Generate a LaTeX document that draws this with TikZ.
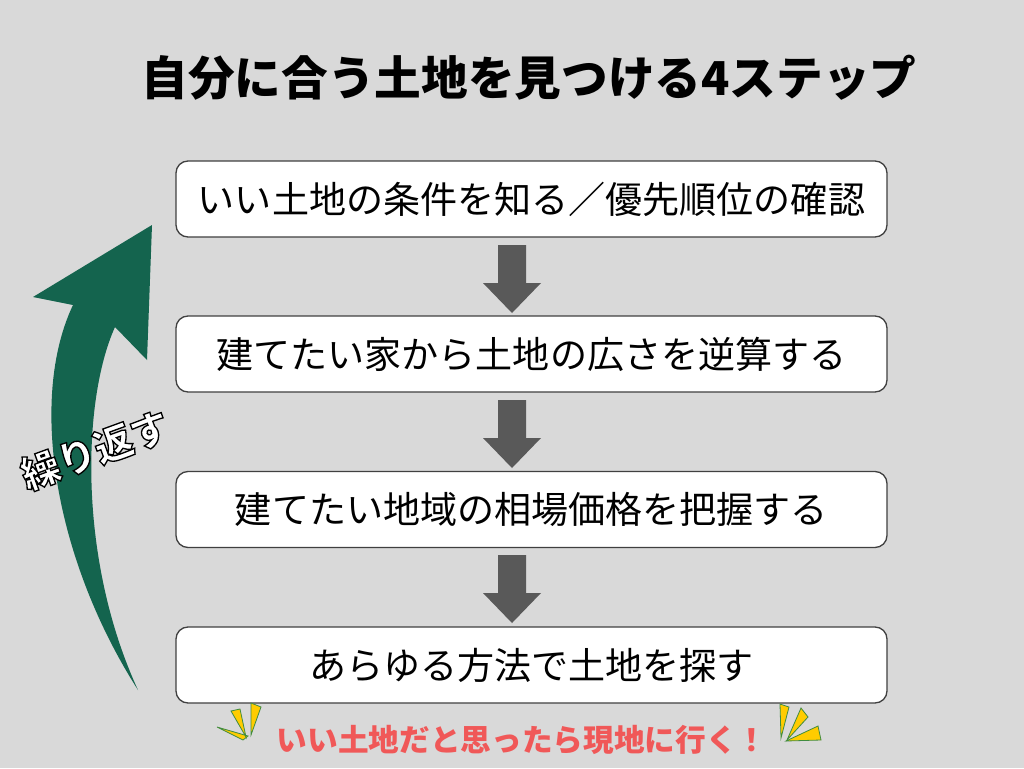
\documentclass[tikz,border=0pt]{standalone}
\usepackage{fontspec}
\newfontfamily\jp{Noto Sans CJK JP}
\newcommand\jpb{\jp\bfseries}
\begin{document}
\begin{tikzpicture}[x=0.75pt,y=-0.75pt,
 stepbox/.style={draw=black!75,line width=1pt,fill=white,rounded corners=9pt,minimum width=711*0.75pt,minimum height=76*0.75pt,font=\jp\fontsize{27.8}{30}\selectfont},
 down/.style={fill=black!65},
 spark/.style={fill={rgb,255:red,255;green,204;blue,0},draw=black!40!green!50!gray,line width=0.6pt}]
\fill[gray!30] (0,0) rectangle (1024,768);
\useasboundingbox (0,0) rectangle (1024,768);
\node[font=\jpb\fontsize{35}{38}\selectfont] (title) at (529,78) {自分に合う土地を見つける4ステップ};
\node[stepbox] (s1) at (531.5,199) {いい土地の条件を知る／優先順位の確認};
\node[stepbox] (s2) at (531.5,354) {建てたい家から土地の広さを逆算する};
\node[stepbox] (s3) at (531.5,509.5) {建てたい地域の相場価格を把握する};
\node[stepbox] (s4) at (531.5,665) {あらゆる方法で土地を探す};
\foreach \y in {245,400,555}{
 \fill[down] (498,\y) -- (526,\y) -- (526,\y+38) -- (541,\y+38) -- (512,\y+68) -- (483,\y+38) -- (498,\y+38) -- cycle;}
\fill[fill={rgb,255:red,20;green,100;blue,78}] (138,690) .. controls (55,560) and (28,400) .. (73,305) -- (33,297) -- (152,225) -- (147,360) -- (115,327) .. controls (82,400) and (78,560) .. (138,690) -- cycle;
\node[rotate=20,font=\jpb\fontsize{29}{32}\selectfont,text=white] (rep) at (95,450) {\special{pdf:literal 2 Tr 1 w 0 0 0 RG}繰り返す\special{pdf:literal 0 Tr}};
\node[font=\jpb\fontsize{23}{26}\selectfont,text={rgb,255:red,240;green,88;blue,88}] (note) at (522,740) {いい土地だと思ったら現地に行く！};
\draw[spark] (217,727) -- (243,740) -- (248,736) -- cycle;
\draw[spark] (231,711) -- (246,737) -- (240,709) -- cycle;
\draw[spark] (251,703) -- (251,735) -- (261,707) -- cycle;
\draw[spark] (780,704) -- (781,738) -- (789,707) -- cycle;
\draw[spark] (801,708) -- (787,740) -- (808,717) -- cycle;
\draw[spark] (818,726) -- (786,741) -- (821,740) -- cycle;
\end{tikzpicture}
\end{document}
